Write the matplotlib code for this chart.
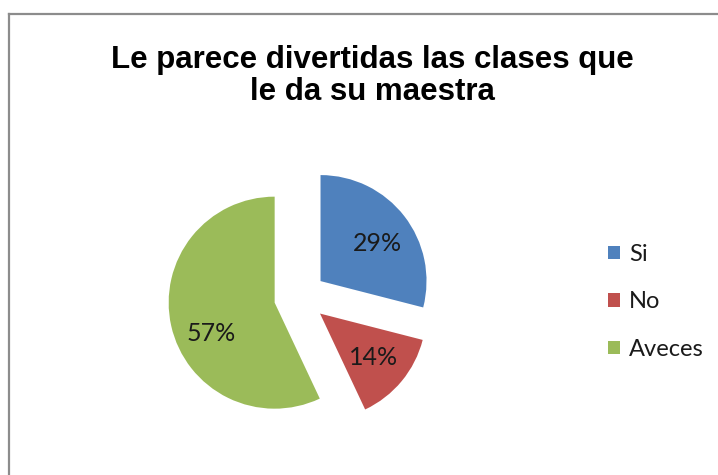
import matplotlib
matplotlib.use("Agg")
import matplotlib.pyplot as plt
from matplotlib.lines import Line2D
from matplotlib.patches import Patch

# data
categories = ["Si", "No", "Aveces"]
percentages = [29, 14, 57]
colors = ["#4F81BD", "#C0504D", "#9BBB59"]
title = "Le parece divertidas las clases que\nle da su maestra"

W, H = 718, 475
fig = plt.figure(figsize=(W / 100, H / 100), dpi=100)
fig.patch.set_facecolor("white")

# chart-area border (only top and left visible in the reference)
fig.add_artist(Line2D([9 / W, 9 / W], [0, 1 - 14 / H], color="#8c8c8c", lw=1.6,
                      transform=fig.transFigure))
fig.add_artist(Line2D([9 / W, 1], [1 - 14 / H, 1 - 14 / H], color="#8c8c8c", lw=1.6,
                      transform=fig.transFigure))

# pie: centre ~ (300, 297) px, radius ~106 px
cx, cy, r, half = 300, 297, 106, 150
ax = fig.add_axes([(cx - half) / W, (H - cy - half) / H, 2 * half / W, 2 * half / H])
wedges, texts, autotexts = ax.pie(
    percentages, colors=colors, startangle=90, counterclock=False,
    explode=[0.245] * len(percentages), autopct="%d%%", pctdistance=0.65,
    textprops=dict(fontsize=18, family="Lato", color="#1a1a1a"),
)
# Excel puts the labels a little off the wedge mid-line
label_shift = [(0.02, -0.04), (0.0, 0.0), (0.04, -0.15)]
for t, (dx, dy) in zip(autotexts, label_shift):
    x, y = t.get_position()
    t.set_position((x + dx, y + dy))

lim = half / r
ax.set_xlim(-lim, lim)
ax.set_ylim(-lim, lim)
ax.set_aspect("auto")
ax.axis("off")

fig.text(372 / W, 1 - 76 / H, title, ha="center", va="center", fontsize=22.5,
         fontweight="bold", family="Liberation Sans", linespacing=1.1)

handles = [Patch(facecolor=c, edgecolor="none") for c in colors]
fig.legend(handles, categories, loc="upper left", bbox_to_anchor=(608 / W, 1 - 244 / H),
           frameon=False, borderpad=0, borderaxespad=0,
           prop=dict(family="Lato", size=17), handlelength=0.5, handleheight=0.5,
           handletextpad=0.4, labelspacing=1.12, labelcolor="#1a1a1a")

fig.savefig("out.png", dpi=100, facecolor="white")
